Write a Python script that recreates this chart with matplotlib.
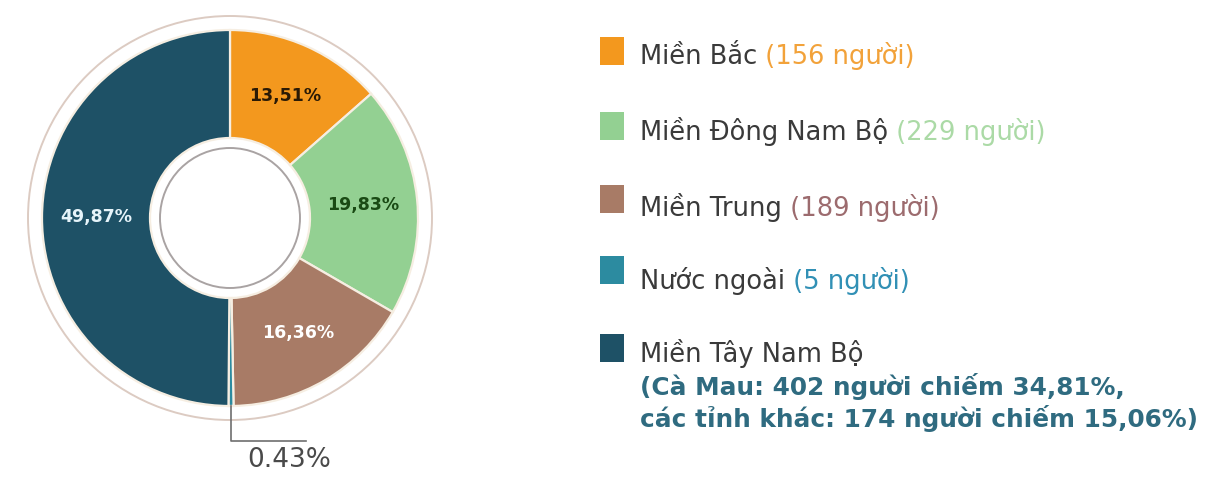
import matplotlib
matplotlib.use("Agg")
import matplotlib.pyplot as plt
from matplotlib.patches import Circle, Rectangle
import numpy as np

# ---- data ----
regions = ["Miền Bắc", "Miền Đông Nam Bộ", "Miền Trung", "Nước ngoài", "Miền Tây Nam Bộ"]
shares = [13.51, 19.83, 16.36, 0.43, 49.87]
counts_text = ["(156 người)", "(229 người)", "(189 người)", "(5 người)", ""]
pct_labels = ["13,51%", "19,83%", "16,36%", "0.43%", "49,87%"]
extra_lines = ["(Cà Mau: 402 người chiếm 34,81%,", "các tỉnh khác: 174 người chiếm 15,06%)"]
colors = ["#F3981E", "#93D092", "#A87B66", "#2C8BA0", "#1E5166"]
count_colors = ["#F2A23A", "#ABDAA6", "#9C6B6E", "#3190B5", "#2F6B80"]
pct_colors = ["#2A1A05", "#1A4A14", "#FFFFFF", "#555555", "#E6F4FA"]

W, H = 1208, 482
fig = plt.figure(figsize=(W / 100, H / 100), dpi=100)
ax = fig.add_axes([0, 0, 1, 1])

cx, cy = 230, H - 218
R_out, R_in = 188, 80

wedges, _ = ax.pie(shares, colors=colors, startangle=90, counterclock=False,
                   radius=R_out, center=(cx, cy),
                   wedgeprops=dict(width=R_out - R_in, edgecolor="#F6EEE2", linewidth=1.6))
ax.set_xlim(0, W)
ax.set_ylim(0, H)
ax.set_aspect("auto")
ax.axis("off")

# outer thin ring and inner ring
ax.add_patch(Circle((cx, cy), 202, fill=False, edgecolor="#DCCBC2", linewidth=1.4))
ax.add_patch(Circle((cx, cy), 70, fill=False, edgecolor="#A9A3A3", linewidth=1.4))

# percentage labels
for i, w in enumerate(wedges):
    if i == 3:
        continue
    mid = np.deg2rad((w.theta1 + w.theta2) / 2)
    r = 0.71 * R_out
    ax.text(cx + r * np.cos(mid), cy + r * np.sin(mid), pct_labels[i],
            ha="center", va="center", fontsize=12.5, fontweight="bold",
            color=pct_colors[i], family="DejaVu Sans")

# leader line for tiny slice
w = wedges[3]
mid = np.deg2rad((w.theta1 + w.theta2) / 2)
x0 = cx + R_out * np.cos(mid)
y0 = cy + R_out * np.sin(mid)
ax.plot([x0, x0, x0 + 75], [y0, H - 441, H - 441], color="#6E6E6E", linewidth=1.2)
ax.text(x0 + 58, H - 460, pct_labels[3], ha="center", va="center",
        fontsize=19, color="#4A4A4A", family="DejaVu Sans")

# legend
sq_x, sq_w, sq_h = 600, 24, 28
rows_y = [51, 126, 199, 270, 348]
text_y = [57, 132, 208, 281, 353]
fs = 18.5
for i in range(5):
    ax.add_patch(Rectangle((sq_x, H - rows_y[i] - sq_h / 2), sq_w, sq_h,
                           facecolor=colors[i], edgecolor="none"))
    t = ax.text(640, H - text_y[i], regions[i], ha="left", va="center",
                fontsize=fs, color="#3A3A3A", family="DejaVu Sans")
    if counts_text[i]:
        ax.annotate(" " + counts_text[i], xy=(1, 0), xycoords=t,
                    ha="left", va="bottom", fontsize=fs, color=count_colors[i],
                    family="DejaVu Sans")

for j, line in enumerate(extra_lines):
    ax.text(640, H - (386 + 32 * j), line, ha="left", va="center", fontsize=17.8,
            fontweight="bold", color=count_colors[4], family="DejaVu Sans")

fig.savefig("out.png", dpi=100, facecolor="white")
